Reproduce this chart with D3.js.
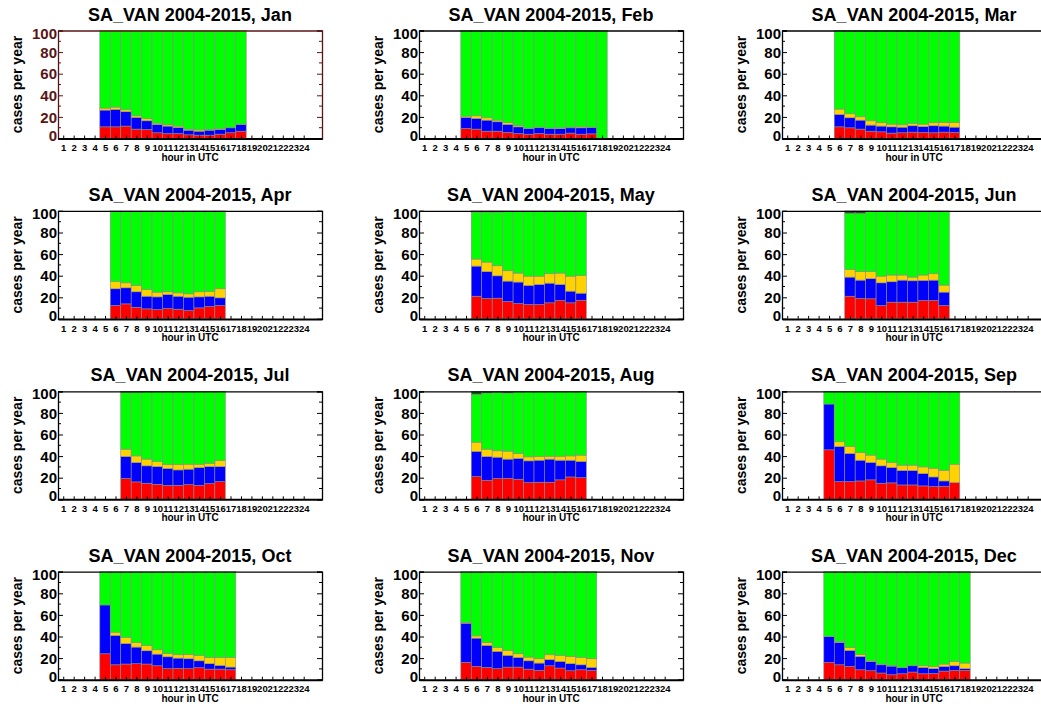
<!DOCTYPE html>
<html>
<head>
<meta charset="utf-8">
<script src="https://cdn.jsdelivr.net/npm/d3@7"></script>
<style>
  html, body { margin: 0; padding: 0; background: #fff; }
  svg { display: block; font-family: "Liberation Sans", Arial, Helvetica, sans-serif; }
</style>
</head>
<body>
<svg id="chart" width="1041" height="706"></svg>
<script>
// ---------------- data ----------------
const station = "SA_VAN 2004-2015";
const months = ["Jan","Feb","Mar","Apr","May","Jun","Jul","Aug","Sep","Oct","Nov","Dec"];
const hourTicks = d3.range(1, 25);
const yTicks = [0, 20, 40, 60, 80, 100];
const firstHour = [5, 5, 6, 6, 6, 7, 7, 6, 5, 5, 5, 5];

const redVals = [
  [10.8,10.8,11.5,8.7,8.4,5.3,4.6,4.6,3.4,3.1,3.1,4.0,5.3,6.8],
  [9.3,8.7,6.8,6.8,5.6,4.6,4.0,4.6,4.0,4.0,5.0,4.0,4.3,0],
  [10.8,9.9,8.7,6.8,6.2,5.0,5.3,5.9,5.6,5.3,5.9,5.6],
  [12.4,13.9,10.8,9.3,8.7,9.6,9.0,7.7,10.2,11.5,12.4],
  [21.0,18.9,19.2,16.1,14.2,13.3,13.3,14.9,17.0,14.9,17.3],
  [21.0,18.9,18.6,12.4,15.5,15.5,15.5,17.0,17.0,12.4],
  [19.2,16.1,14.9,13.9,13.0,13.0,13.6,13.0,14.6,16.4],
  [21.0,17.6,19.2,19.5,18.6,15.5,15.8,15.8,18.0,20.7,20.1],
  [45.8,16.4,16.4,17.0,18.0,14.9,15.2,13.3,13.3,12.4,11.8,12.1,15.5],
  [24.0,13.8,14.5,14.8,14.5,12.9,10.2,10.5,10.2,11.1,9.8,9.8,9.2],
  [16.0,12.3,11.4,10.2,11.7,11.7,9.8,8.6,12.9,10.8,8.3,9.2,8.6],
  [16.0,13.8,12.3,9.2,8.3,6.2,4.6,5.5,7.1,5.5,5.8,8.0,8.6,8.6]
];
const blueVals = [
  [15.5,16.1,13.3,10.8,8.0,7.7,6.9,5.6,4.3,3.7,4.6,4.4,4.6,6.2],
  [10.2,9.9,10.2,8.7,7.4,6.2,5.3,5.6,5.3,5.3,4.9,5.9,5.9,0],
  [11.5,9.3,8.3,5.6,5.3,5.8,5.2,5.9,5.5,6.5,5.6,4.9],
  [15.5,14.9,14.3,11.7,11.7,13.0,12.0,12.4,10.2,9.5,7.1],
  [27.9,24.8,20.7,18.9,19.9,17.7,18.6,18.2,14.9,10.8,6.5],
  [17.7,17.0,18.6,21.0,18.9,20.4,19.8,18.6,18.9,12.4],
  [20.4,18.0,16.1,16.4,15.5,14.2,14.3,16.4,15.7,13.9],
  [23.3,22.0,19.8,17.7,19.2,20.1,20.4,21.4,18.2,15.5,14.9],
  [42.4,32.5,26.0,19.2,16.1,16.1,14.2,13.3,13.3,11.4,8.9,4.9,0],
  [45.2,27.1,19.0,15.4,12.3,10.8,11.0,9.5,9.2,6.4,5.0,3.4,2.5],
  [36.3,26.2,20.3,16.0,10.8,8.9,7.7,6.8,5.6,6.1,6.5,4.6,2.8],
  [24.0,20.7,14.8,12.3,8.6,7.6,8.0,5.6,5.8,5.9,4.4,4.3,4.3,1.6]
];
const yellowVals = [
  [1.9,2.2,1.8,1.5,1.9,1.2,1.2,1.3,1.0,1.2,0.7,0.6,0.3,0.3],
  [1.2,2.4,2.2,1.5,1.6,1.3,0.3,0.3,0.3,0.6,0.6,0.9,0.3,0],
  [4.9,3.7,3.1,4.0,3.1,2.5,2.2,2.1,2.2,2.8,3.4,4.4],
  [6.8,4.6,5.9,6.2,4.4,2.5,3.1,3.1,4.7,4.4,8.4],
  [6.5,8.9,9.3,9.6,8.3,8.6,7.7,8.7,10.5,13.9,16.4],
  [7.1,8.1,6.5,6.2,6.2,4.7,3.4,5.0,5.9,6.5],
  [6.8,6.1,6.2,4.7,3.7,5.0,4.6,3.1,3.1,5.6],
  [8.6,6.8,5.9,7.4,4.6,3.7,3.4,2.7,3.7,4.0,5.9],
  [0,4.4,6.5,7.1,6.8,6.2,4.7,5.0,5.0,6.2,8.1,9.9,17.0],
  [0,3.1,5.6,4.3,4.9,4.0,3.1,3.1,4.0,5.0,5.8,7.4,8.9],
  [0.9,2.1,2.8,3.6,4.6,3.4,3.4,4.0,4.6,5.6,6.7,6.8,8.0],
  [0.3,0.9,2.7,1.9,0.6,0.7,0.6,0.3,0.3,1.5,2.1,2.2,4.0,5.2]
];
const greenVals = [
  [71.8,70.9,73.4,79.0,81.7,85.8,87.3,88.5,91.3,92.0,91.6,91.0,89.8,86.7],
  [79.3,79.0,80.8,83.0,85.4,87.9,90.4,89.5,90.4,90.1,89.5,89.2,89.5,100],
  [72.8,77.1,79.9,83.6,85.4,86.7,87.3,86.1,86.7,85.4,85.1,85.1],
  [65.3,66.6,69.0,72.8,75.2,74.9,75.9,76.8,74.9,74.6,72.1],
  [43.6,46.4,49.8,54.8,57.6,60.4,60.4,58.2,57.6,60.4,59.8],
  [51.7,53.5,55.8,60.4,59.4,59.4,61.3,59.4,58.2,68.7],
  [52.8,59.0,62.4,65.0,67.8,67.8,67.5,67.5,66.6,64.1],
  [44.1,52.1,54.1,53.9,57.1,60.7,60.4,60.1,60.1,59.8,59.1],
  [11.8,46.7,51.1,56.7,59.1,62.8,65.9,68.4,68.4,70.0,71.2,73.1,67.5],
  [30.8,56.0,60.9,65.5,68.3,72.3,75.7,76.9,76.6,77.5,79.4,79.4,79.4],
  [46.8,59.4,65.5,70.2,72.9,76.0,79.1,80.6,76.9,77.5,78.5,79.4,80.6],
  [59.7,64.6,70.2,76.6,82.5,85.5,86.8,88.6,86.8,87.1,87.7,85.5,83.1,84.6]
];
const darkGreenVals = [
  [], [], [], [],
  [1.0,1.0,1.0,0.6],
  [2.5,2.5,0.5],
  [0.8,0.8,0.4],
  [3.0,1.5,1.0,1.5,0.5],
  [], [], [], []
];

const seriesKeys = ["red", "blue", "yellow", "green", "darkgreen"];
const seriesColors = {red: "#ff0000", blue: "#0000ff", yellow: "#ffd200", green: "#00ff00", darkgreen: "#0b6b0b"};

// ---------------- layout ----------------
const svg = d3.select("#chart");
const colLeft = [58, 419, 782];
const plotW = 264;
const plotH = 108;
const rowTop = r => 30.5 + r * 180.4;

const stack = d3.stack().keys(seriesKeys);

months.forEach((mon, m) => {
  const col = m % 3, row = Math.floor(m / 3);
  const left = colLeft[col], top = rowTop(row);
  const x = d3.scaleLinear().domain([0.5, 25.75]).range([0, plotW]);
  const y = d3.scaleLinear().domain([0, 100]).range([plotH, 0]);
  const axisColor = m === 0 ? "#5a1414" : "#000";

  const rows = redVals[m].map((v, i) => ({
    hour: firstHour[m] + i,
    red: v,
    blue: blueVals[m][i],
    yellow: yellowVals[m][i],
    green: greenVals[m][i],
    darkgreen: darkGreenVals[m][i] || 0
  }));
  const stacked = stack(rows);

  const g = svg.append("g").attr("transform", `translate(${left},${top})`);

  // bars
  stacked.forEach(layer => {
    g.append("g").selectAll("rect")
      .data(layer.filter(d => d[1] - d[0] > 0))
      .join("rect")
      .attr("x", d => x(d.data.hour - 0.5))
      .attr("width", x(1.5) - x(0.5))
      .attr("y", d => y(d[1]))
      .attr("height", d => y(d[0]) - y(d[1]))
      .attr("fill", seriesColors[layer.key])
      .attr("stroke", "#8a8a8a")
      .attr("stroke-width", 0.6);
  });

  // left axis
  const yLeft = d3.axisLeft(y).tickValues(yTicks).tickSize(-5).tickPadding(3).tickFormat(d3.format("d"));
  const ga = g.append("g").call(yLeft);
  ga.select(".domain").attr("stroke", axisColor).attr("stroke-width", 1.3);
  ga.selectAll(".tick line").attr("stroke", axisColor);
  ga.selectAll(".tick text")
    .attr("fill", axisColor)
    .attr("font-size", 15).attr("font-weight", "bold")
    .attr("font-family", "Liberation Sans, Arial, sans-serif")
    .attr("x", -1)
    .attr("dy", d => d === 100 ? "0.5em" : (d === 0 ? "0.1em" : "0.35em"));
  // minor ticks left
  g.append("g").selectAll("line").data(d3.range(0, 101, 10).filter(v => v % 20))
    .join("line").attr("x1", 0).attr("x2", 3).attr("y1", d => y(d)).attr("y2", d => y(d))
    .attr("stroke", axisColor);

  // right axis
  const yRight = d3.axisRight(y).tickValues(yTicks).tickSize(-5).tickFormat("");
  const gr = g.append("g").attr("transform", `translate(${plotW},0)`).call(yRight);
  gr.select(".domain").attr("stroke", axisColor).attr("stroke-width", 1.3);
  gr.selectAll(".tick line").attr("stroke", axisColor);
  g.append("g").selectAll("line").data(d3.range(0, 101, 10).filter(v => v % 20))
    .join("line").attr("x1", plotW).attr("x2", plotW - 3).attr("y1", d => y(d)).attr("y2", d => y(d))
    .attr("stroke", axisColor);

  // top axis line
  const gt = g.append("g").call(d3.axisTop(x).tickValues([]).tickSizeOuter(0));
  gt.select(".domain").attr("stroke", axisColor).attr("stroke-width", 1.3);

  // bottom axis
  const xb = d3.axisBottom(x).tickValues(hourTicks).tickSize(-3).tickSizeOuter(0).tickPadding(6)
    .tickFormat(d3.format("d"));
  const gb = g.append("g").attr("transform", `translate(0,${plotH})`).call(xb);
  gb.select(".domain").attr("stroke", "#000").attr("stroke-width", 2);
  gb.selectAll(".tick line").attr("stroke", "#000");
  gb.selectAll(".tick text")
    .attr("fill", "#000")
    .attr("font-size", 9.5).attr("font-weight", "bold")
    .attr("font-family", "Liberation Sans, Arial, sans-serif");

  // title
  g.append("text")
    .attr("x", plotW / 2).attr("y", -10)
    .attr("text-anchor", "middle")
    .attr("font-size", 18).attr("font-weight", "bold")
    .text(`${station}, ${mon}`);

  // x label
  g.append("text")
    .attr("x", plotW / 2).attr("y", plotH + 22)
    .attr("text-anchor", "middle")
    .attr("font-size", 10).attr("font-weight", "bold")
    .text("hour in UTC");

  // y label
  g.append("text")
    .attr("transform", `translate(-36,${plotH / 2}) rotate(-90)`)
    .attr("text-anchor", "middle")
    .attr("font-size", 14).attr("font-weight", "bold")
    .text("cases per year");
});
</script>
</body>
</html>
